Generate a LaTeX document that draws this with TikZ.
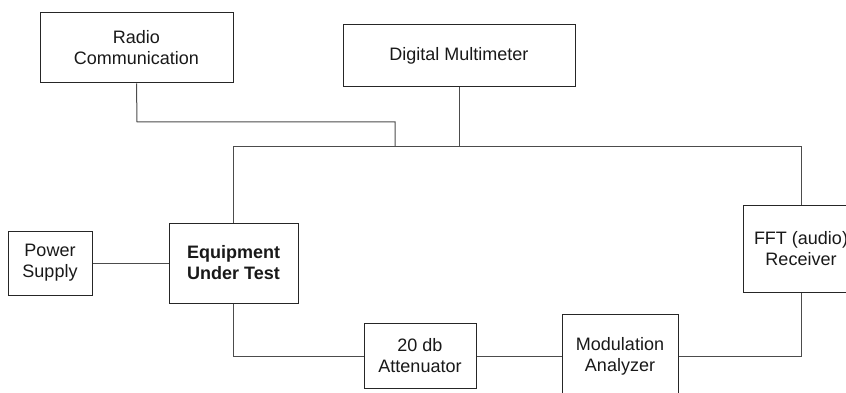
\documentclass[tikz,border=0pt]{standalone}
\usepackage{fontspec}
\setmainfont{Liberation Sans}
\begin{document}
\begin{tikzpicture}[x=1pt,y=-1pt,
  blk/.style={draw=black!85,line width=1pt,fill=white,inner sep=0pt,align=center,
    font=\fontsize{18}{21}\selectfont,text=black!90},
  wire/.style={draw=black!70,line width=1pt}]
\useasboundingbox (0,0) rectangle (846,393);
\clip (0,0) rectangle (846,393);
\node[blk,minimum width=193pt,minimum height=70pt] (radio) at (136.5,48) {Radio\\Communication};
\node[blk,minimum width=232pt,minimum height=62pt] (dmm) at (459,56) {Digital Multimeter};
\node[blk,minimum width=84pt,minimum height=64pt] (ps) at (50,263) {Power\\Supply};
\node[blk,minimum width=129pt,minimum height=80pt,font=\fontsize{18}{21}\selectfont\bfseries] (eut) at (233.5,263) {Equipment\\Under Test};
\node[blk,minimum width=112pt,minimum height=65pt] (att) at (420,356) {20 db\\Attenuator};
\node[blk,minimum width=116pt,minimum height=84pt] (mod) at (620,356) {Modulation\\Analyzer};
\node[blk,minimum width=116pt,minimum height=87pt] (fft) at (801,248.5) {FFT (audio)\\Receiver};
\coordinate (rj) at (395,147);
\coordinate (dj) at (459,147);
\draw[wire] (radio.south) -- (137,122) -| (rj);
\draw[wire] (dmm.south) -- (dj);
\draw[wire] (eut.north) -- (233.5,147) -| (fft.north);
\draw[wire] (ps.east) -- (eut.west);
\draw[wire] (eut.south) |- (att.west);
\draw[wire] (att.east) -- (mod.west);
\draw[wire] (mod.east) -| (fft.south);
\end{tikzpicture}
\end{document}
